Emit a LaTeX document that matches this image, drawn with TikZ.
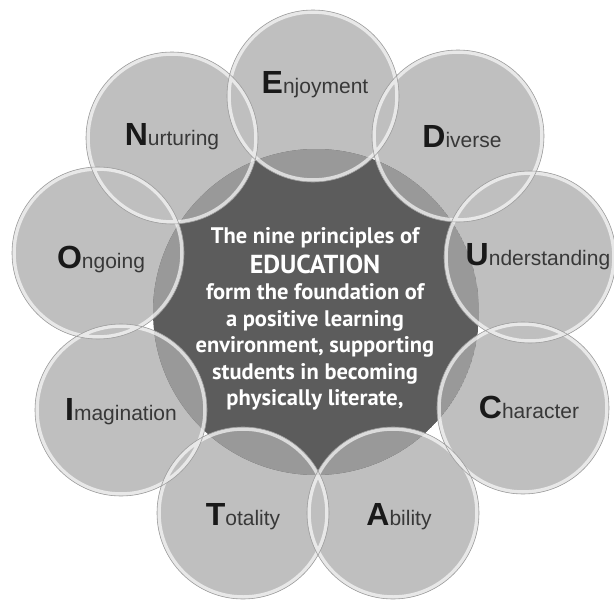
\documentclass[tikz,border=0pt]{standalone}
\usepackage{fontspec}
\setsansfont{Liberation Sans}
\newfontfamily\mottofont{PT Sans}
\usepackage{xcolor}

\definecolor{bubblegray}{gray}{0.75}
\definecolor{lensgray}{gray}{0.60}
\definecolor{coregray}{gray}{0.36}
\definecolor{inkgray}{gray}{0.22}

\newcommand{\Initial}[1]{{\fontsize{32}{32}\selectfont\bfseries\color{black!90}#1}}

\begin{document}
\begin{tikzpicture}[x=1pt,y=1pt,
	rim/.style={draw=white,line width=3.5pt,opacity=0.65},
	edge/.style={draw=gray!75,line width=0.6pt},
	word/.style={anchor=base,inner sep=0pt,text=inkgray,
		font=\sffamily\fontsize{21}{21}\selectfont},
	motto/.style={align=center,inner sep=0pt,text=white,
		font=\mottofont\bfseries\fontsize{22.5}{26.5}\selectfont}]
			\useasboundingbox (0,-603) rectangle (614,0);
			%\draw[help lines,step=50] (0,-603) grid (614,0);
			
			\coordinate (E) at (313,-96);
			\coordinate (D) at (458,-136);
			\coordinate (U) at (530,-257);
			\coordinate (C) at (523,-408);
			\coordinate (A) at (393,-513);
			\coordinate (T) at (243,-513);
			\coordinate (I) at (121,-410);
			\coordinate (O) at (98,-253);
			\coordinate (N) at (172,-138);
			\coordinate (core) at (316,-312);
			
			% bubbles
			\fill[bubblegray] (E) circle (86) (D) circle (86) (U) circle (86)
			(C) circle (86) (A) circle (86) (T) circle (86)
			(I) circle (86) (O) circle (86) (N) circle (86);
			
			% dark centre, bubbles show darker on top of it
			\begin{scope}
				\clip (core) circle (163);
				\fill[coregray] (core) circle (163);
				\fill[lensgray] (E) circle (86) (D) circle (86) (U) circle (86)
				(C) circle (86) (A) circle (86) (T) circle (86)
				(I) circle (86) (O) circle (86) (N) circle (86);
			\end{scope}
			
			% glassy rims
			\draw[rim] (E) circle (84) (D) circle (84) (U) circle (84)
			(C) circle (84) (A) circle (84) (T) circle (84)
			(I) circle (84) (O) circle (84) (N) circle (84);
			\draw[edge] (E) circle (86) (D) circle (86) (U) circle (86)
			(C) circle (86) (A) circle (86) (T) circle (86)
			(I) circle (86) (O) circle (86) (N) circle (86);
			
			\node[word] (enjoy) at (315,-93) {\Initial{E}njoyment};
			\node[word] (diverse) at (462,-147) {\Initial{D}iverse};
			\node[word] (underst) at (538,-265) {\Initial{U}nderstanding};
			\node[word] (charac) at (529,-418) {\Initial{C}haracter};
			\node[word] (ability) at (399,-525) {\Initial{A}bility};
			\node[word] (total) at (243,-525) {\Initial{T}otality};
			\node[word] (imagin) at (121,-420) {\Initial{I}magination};
			\node[word] (ongoing) at (101,-268) {\Initial{O}ngoing};
			\node[word] (nurtur) at (172,-145) {\Initial{N}urturing};
			
			\node[motto] (title) at (315,-319) {The nine principles of\\[3pt]
				{\fontsize{26}{26.5}\selectfont EDUCATION}\\
				form the foundation of\\
				a positive learning\\
				environment, supporting\\
				students in becoming\\
				physically literate,};
\end{tikzpicture}
\end{document}
